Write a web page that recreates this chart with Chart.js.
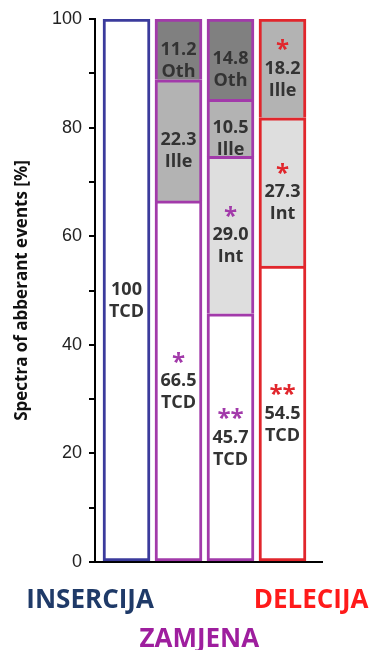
<!DOCTYPE html>
<html>
<head>
<meta charset="utf-8">
<script src="https://cdn.jsdelivr.net/npm/chart.js@4/dist/chart.umd.min.js"></script>
<style>
  html, body { margin: 0; padding: 0; background: #ffffff; }
  canvas { display: block; }
</style>
</head>
<body>
<canvas id="chart" width="373" height="650"></canvas>
<script>
// Share (%) of each event class per column: insertion, two substitution columns, deletion
const columns = ['Insercija', 'Zamjena 1', 'Zamjena 2', 'Delecija'];
const tcdValues  = [100, 66.5, 45.7, 54.5];
const intValues  = [null, null, 29.0, 27.3];
const illeValues = [null, 22.3, 10.5, 18.2];
const othValues  = [null, 11.2, 14.8, null];

// Significance marks shown above each segment value
const tcdStars  = ['', '*', '**', '**'];
const intStars  = ['', '', '*', '*'];
const illeStars = ['', '', '', '*'];
const othStars  = ['', '', '', ''];

const seriesNames = ['TCD', 'Int', 'Ille', 'Oth'];
const groupNames = ['INSERCIJA', 'ZAMJENA', 'DELECIJA'];
const yTickValues = [0, 20, 40, 60, 80, 100];

// Styling
const columnColors = ['#3b3b9c', '#a23aaa', '#a23aaa', '#e1262c'];
const segmentFills = ['#ffffff', '#dedede', '#b3b3b3', '#808080'];
const groupColors = ['#1f3a68', '#9e1e9e', '#ff1a1a'];

const seriesValues = [tcdValues, intValues, illeValues, othValues];
const seriesStars = [tcdStars, intStars, illeStars, othStars];

const datasets = seriesNames.map((name, s) => ({
  label: name,
  stars: seriesStars[s],
  data: seriesValues[s]
    .map((v, i) => (v == null ? null : { x: i, y: v }))
    .filter(Boolean),
  backgroundColor: segmentFills[s],
  borderColor: (c) => columnColors[c.raw ? c.raw.x : 0],
  borderWidth: s === 0 ? 3 : { top: 3, left: 3, right: 3, bottom: 0 },
  borderSkipped: false,
  barThickness: 47
}));

const fmt = (v) => (v >= 100 ? String(v) : v.toFixed(1));

// Writes value, class name and significance stars inside every segment
const segmentLabels = {
  id: 'segmentLabels',
  afterDatasetsDraw(chart) {
    const ctx = chart.ctx;
    ctx.save();
    ctx.textAlign = 'center';
    ctx.textBaseline = 'middle';
    chart.data.datasets.forEach((ds, di) => {
      const meta = chart.getDatasetMeta(di);
      meta.data.forEach((el, j) => {
        const raw = ds.data[j];
        const cy = (el.y + el.base) / 2;
        ctx.fillStyle = '#333333';
        ctx.font = 'bold 18px "Open Sans"';
        ctx.fillText(fmt(raw.y), el.x, cy);
        ctx.fillText(ds.label, el.x, cy + 22);
        const star = ds.stars[raw.x];
        if (star) {
          ctx.fillStyle = columnColors[raw.x];
          ctx.font = 'bold 24px "Open Sans"';
          ctx.fillText(star, el.x, cy - 18);
        }
      });
    });
    ctx.restore();
  }
};

// Coloured group names under the axis
const groupLabels = {
  id: 'groupLabels',
  afterDraw(chart) {
    const ctx = chart.ctx;
    const xs = chart.scales.x;
    const bottom = chart.chartArea.bottom;
    const anchors = [-0.7, 1.4, 3.55];
    const rows = [0, 1, 0];
    ctx.save();
    ctx.textAlign = 'center';
    ctx.textBaseline = 'middle';
    ctx.font = 'bold 26px "Open Sans"';
    groupNames.forEach((g, i) => {
      ctx.fillStyle = groupColors[i];
      ctx.fillText(g, xs.getPixelForValue(anchors[i]), bottom + 39 + rows[i] * 39);
    });
    ctx.restore();
  }
};

new Chart(document.getElementById('chart'), {
  type: 'bar',
  data: { datasets },
  plugins: [segmentLabels, groupLabels],
  options: {
    responsive: false,
    devicePixelRatio: 1,
    animation: false,
    layout: { padding: { top: 19, right: 51, left: 0, bottom: 0 } },
    plugins: { legend: { display: false }, tooltip: { enabled: false } },
    scales: {
      x: {
        type: 'linear',
        stacked: true,
        offset: false,
        min: -0.606,
        max: 3.76,
        ticks: { display: false },
        grid: { display: false },
        border: { display: true, color: '#000000', width: 2 },
        afterFit(scale) { scale.height = 88; }
      },
      y: {
        stacked: true,
        min: 0,
        max: 100,
        ticks: {
          stepSize: 10,
          padding: 7,
          color: '#222222',
          font: { family: '"Liberation Sans", Arial, sans-serif', size: 18 },
          callback: (v) => (yTickValues.includes(v) ? String(v) : '')
        },
        grid: {
          drawOnChartArea: false,
          drawTicks: true,
          tickLength: 6,
          color: '#000000',
          lineWidth: 2
        },
        border: { display: true, color: '#000000', width: 2 },
        title: {
          display: true,
          text: 'Spectra of abberant events [%]',
          color: '#111111',
          font: { family: '"Open Sans"', size: 17, weight: 'bold' },
          padding: { top: 12, bottom: 0 }
        },
        afterFit(scale) { scale.width = 95; }
      }
    }
  }
});
</script>
</body>
</html>
